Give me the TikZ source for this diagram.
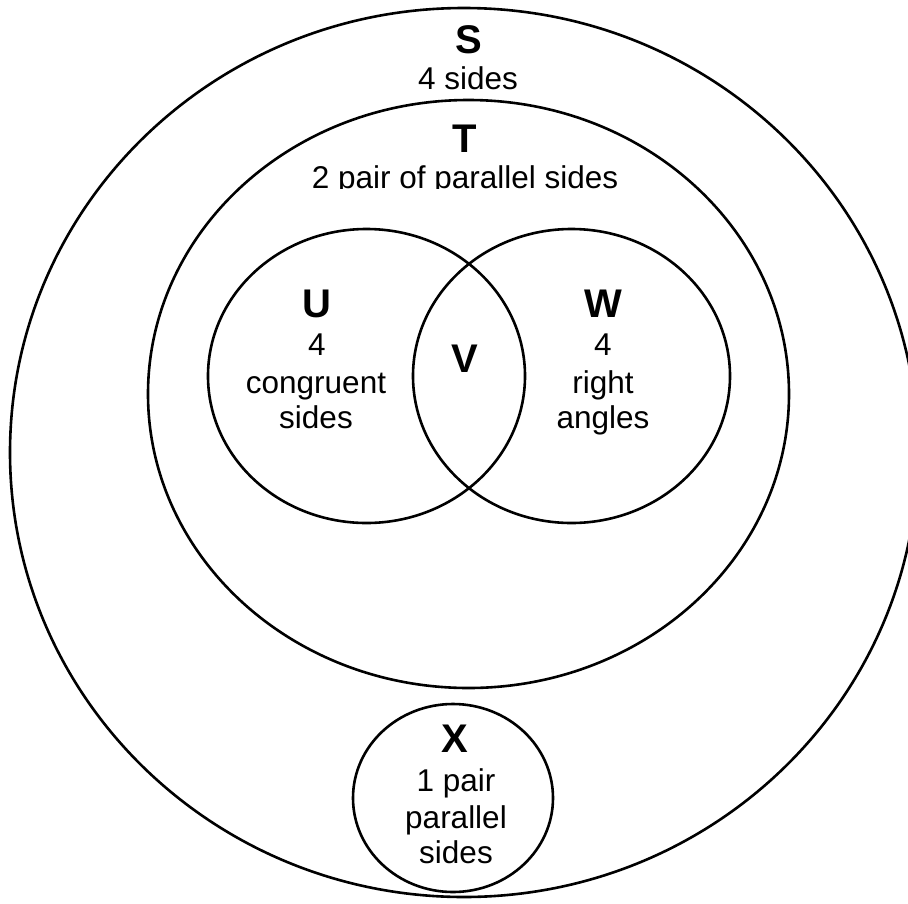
\documentclass[tikz,border=0pt]{standalone}
\usepackage{fontspec}
\setmainfont{Liberation Sans}
\usetikzlibrary{shapes.geometric}
\begin{document}
\begin{tikzpicture}[x=1pt,y=-1pt,
  setshape/.style={draw=black,line width=2.6pt,ellipse,inner sep=0pt,outer sep=0pt},
  letter/.style={anchor=base,inner sep=0pt,font=\fontsize{40}{44}\selectfont\bfseries},
  body/.style={anchor=base,inner sep=0pt,font=\fontsize{31.5}{36}\selectfont}]
\useasboundingbox[fill=white] (0,0) rectangle (908,903);
% sets
\node[setshape,minimum width=908pt,minimum height=889pt] (S) at (464,452.5) {};
\node[setshape,minimum width=641pt,minimum height=588pt] (T) at (468.5,394) {};
\node[setshape,minimum width=317pt,minimum height=294pt] (U) at (366.5,376) {};
\node[setshape,minimum width=317pt,minimum height=294pt] (W) at (571.5,376) {};
\node[setshape,minimum width=200pt,minimum height=188pt] (X) at (453,798) {};
% S labels
\node[letter] (sl) at (469,53) {S};
\begin{scope}
\clip (360,40) rectangle (580,89.5);
\node[body] (st) at (468,89) {4 sides};
\end{scope}
% T labels
\node[letter] (tl) at (465,152) {T};
\begin{scope}
\clip (280,140) rectangle (660,188.5);
\node[body] (tt) at (465,188) {2 pair of parallel sides};
\end{scope}
% U labels
\node[letter] (ul) at (317,317) {U};
\node[body] (u1) at (317,355) {4};
\node[body] (u2) at (316,393) {congruent};
\node[body] (u3) at (316,428) {sides};
% V label
\node[letter] (vl) at (465,372) {V};
% W labels
\node[letter] (wl) at (603,317) {W};
\node[body] (w1) at (603,355) {4};
\node[body] (w2) at (603,393) {right};
\node[body] (w3) at (603,428) {angles};
% X labels
\node[letter] (xl) at (455,752) {X};
\node[body] (x1) at (456,791) {1 pair};
\node[body] (x2) at (456,828) {parallel};
\node[body] (x3) at (456,863) {sides};
\end{tikzpicture}
\end{document}
